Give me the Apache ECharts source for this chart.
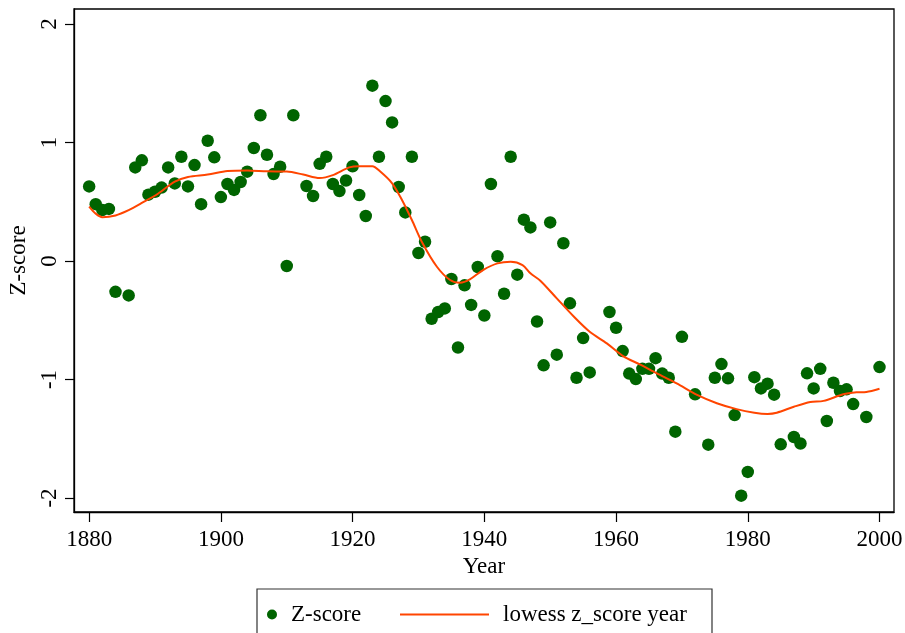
<!DOCTYPE html>
<html>
<head>
<meta charset="utf-8">
<script src="https://cdn.jsdelivr.net/npm/echarts@6/dist/echarts.min.js"></script>
<style>
  html, body { margin: 0; padding: 0; background: #fff; }
  #chart { width: 905px; height: 633px; }
</style>
</head>
<body>
<div id="chart"></div>
<script>
// z-score per year
const years = [
  1880, 1881, 1882, 1883, 1884, 1886, 1887, 1888, 1889, 1890,
  1891, 1892, 1893, 1894, 1895, 1896, 1897, 1898, 1899, 1900,
  1901, 1902, 1903, 1904, 1905, 1906, 1907, 1908, 1909, 1910,
  1911, 1913, 1914, 1915, 1916, 1917, 1918, 1919, 1920, 1921,
  1922, 1923, 1924, 1925, 1926, 1927, 1928, 1929, 1930, 1931,
  1932, 1933, 1934, 1935, 1936, 1937, 1938, 1939, 1940, 1941,
  1942, 1943, 1944, 1945, 1946, 1947, 1948, 1949, 1950, 1951,
  1952, 1953, 1954, 1955, 1956, 1959, 1960, 1961, 1962, 1963,
  1964, 1965, 1966, 1967, 1968, 1969, 1970, 1972, 1974, 1975,
  1976, 1977, 1978, 1979, 1980, 1981, 1982, 1983, 1984, 1985,
  1987, 1988, 1989, 1990, 1991, 1992, 1993, 1994, 1995, 1996,
  1998, 2000
];
const zScores = [
  0.63, 0.48, 0.43, 0.44, -0.26, -0.29, 0.79, 0.85, 0.56, 0.585,
  0.62, 0.79, 0.655, 0.88, 0.63, 0.81, 0.48, 1.015, 0.875, 0.54,
  0.65, 0.60, 0.667, 0.754, 0.954, 1.23, 0.897, 0.734, 0.796, -0.042,
  1.23, 0.633, 0.549, 0.82, 0.88, 0.65, 0.59, 0.68, 0.80, 0.557,
  0.38, 1.48, 0.88, 1.35, 1.17, 0.625, 0.41, 0.88, 0.068, 0.163,
  -0.487, -0.43, -0.40, -0.152, -0.73, -0.205, -0.37, -0.05, -0.46, 0.65,
  0.04, -0.276, 0.88, -0.115, 0.349, 0.284, -0.51, -0.88, 0.326, -0.79,
  0.15, -0.357, -0.985, -0.65, -0.94, -0.43, -0.563, -0.76, -0.95, -0.996,
  -0.91, -0.91, -0.82, -0.95, -0.985, -1.44, -0.64, -1.125, -1.55, -0.985,
  -0.87, -0.99, -1.30, -1.98, -1.78, -0.98, -1.075, -1.035, -1.128, -1.547,
  -1.485, -1.54, -0.948, -1.075, -0.91, -1.35, -1.027, -1.097, -1.083, -1.207,
  -1.316, -0.895
];

// lowess curve, traced
const lowessYears = [
  1880, 1881, 1882, 1884, 1886, 1888, 1890.5, 1893, 1895, 1898,
  1901, 1904, 1907, 1910, 1912.5, 1915, 1917, 1919.5, 1921, 1923,
  1924.2, 1926, 1927.5, 1929, 1930.5, 1932.8, 1934.8, 1936.3, 1937.8, 1939.8,
  1942, 1944, 1945.8, 1947, 1948.5, 1951, 1953.5, 1956, 1958.6, 1961,
  1963.7, 1966.2, 1969.2, 1972.3, 1975.3, 1978.3, 1981, 1983, 1984.4, 1987,
  1989.5, 1991.5, 1994.5, 1996.5, 1998, 2000
];
const lowessValues = [
  0.46, 0.40, 0.37, 0.385, 0.43, 0.49, 0.57, 0.67, 0.71, 0.73,
  0.76, 0.765, 0.757, 0.755, 0.73, 0.70, 0.725, 0.79, 0.80, 0.80,
  0.755, 0.656, 0.515, 0.346, 0.163, -0.048, -0.16, -0.183, -0.155, -0.076,
  -0.02, -0.006, -0.034, -0.104, -0.166, -0.315, -0.464, -0.597, -0.695, -0.80,
  -0.875, -0.948, -1.032, -1.13, -1.20, -1.25, -1.28, -1.29, -1.28, -1.23,
  -1.19, -1.18, -1.125, -1.108, -1.105, -1.078
];

const xTicks = [1880, 1900, 1920, 1940, 1960, 1980, 2000];
const yTicks = [-2, -1, 0, 1, 2];

const font = "'Liberation Serif', 'Times New Roman', serif";
const green = '#006400';
const orange = '#ff4500';

const myChart = echarts.init(document.getElementById('chart'));

const option = {
  backgroundColor: '#fff',
  animation: false,
  grid: {
    left: 74, top: 9, width: 820, height: 503,
    outerBoundsMode: 'none',
    show: true, borderColor: '#000', borderWidth: 1.3
  },
  legend: [
    {
      data: [{name: 'Z-score', icon: 'circle'}],
      left: 262, top: 598,
      itemWidth: 10, itemHeight: 10,
      textStyle: {fontFamily: font, fontSize: 23, color: '#000', padding: [0, 0, 0, 9]}
    },
    {
      data: [{name: 'lowess z_score year', icon: 'rect'}],
      left: 395, top: 598,
      itemWidth: 89, itemHeight: 2,
      textStyle: {fontFamily: font, fontSize: 23, color: '#000', padding: [0, 0, 0, 9]}
    }
  ],
  graphic: [{
    type: 'rect',
    shape: {x: 257, y: 589, width: 455, height: 70},
    style: {fill: 'none', stroke: '#333', lineWidth: 1.2},
    silent: true
  }],
  xAxis: {
    type: 'value',
    min: 1877.7, max: 2002.2,
    name: 'Year', nameLocation: 'middle', nameGap: 40,
    nameTextStyle: {fontFamily: font, fontSize: 23, color: '#000'},
    axisLine: {show: true, onZero: false, lineStyle: {color: '#000', width: 1.3}},
    axisTick: {show: true, length: 10, customValues: xTicks, lineStyle: {color: '#000', width: 1.2}},
    axisLabel: {
      customValues: xTicks, margin: 16,
      fontFamily: font, fontSize: 23, color: '#000',
      formatter: (v) => String(v)
    },
    splitLine: {show: false}
  },
  yAxis: {
    type: 'value',
    min: -2.118, max: 2.127,
    name: 'Z-score', nameLocation: 'middle', nameRotate: 90, nameGap: 41,
    nameTextStyle: {fontFamily: font, fontSize: 23, color: '#000'},
    axisLine: {show: true, onZero: false, lineStyle: {color: '#000', width: 1.3}},
    axisTick: {show: true, length: 9, customValues: yTicks, lineStyle: {color: '#000', width: 1.2}},
    axisLabel: {customValues: yTicks, rotate: 90, margin: 13, fontFamily: font, fontSize: 23, color: '#000'},
    splitLine: {show: false}
  },
  series: [
    {
      name: 'Z-score',
      type: 'scatter',
      symbol: 'circle',
      symbolSize: 12.5,
      itemStyle: {color: green, opacity: 1},
      data: years.map((y, i) => [y, zScores[i]])
    },
    {
      name: 'lowess z_score year',
      type: 'line',
      symbol: 'none',
      smooth: 0.3,
      lineStyle: {color: orange, width: 2},
      itemStyle: {color: orange},
      data: lowessYears.map((y, i) => [y, lowessValues[i]])
    }
  ]
};

option && myChart.setOption(option);
</script>
</body>
</html>
